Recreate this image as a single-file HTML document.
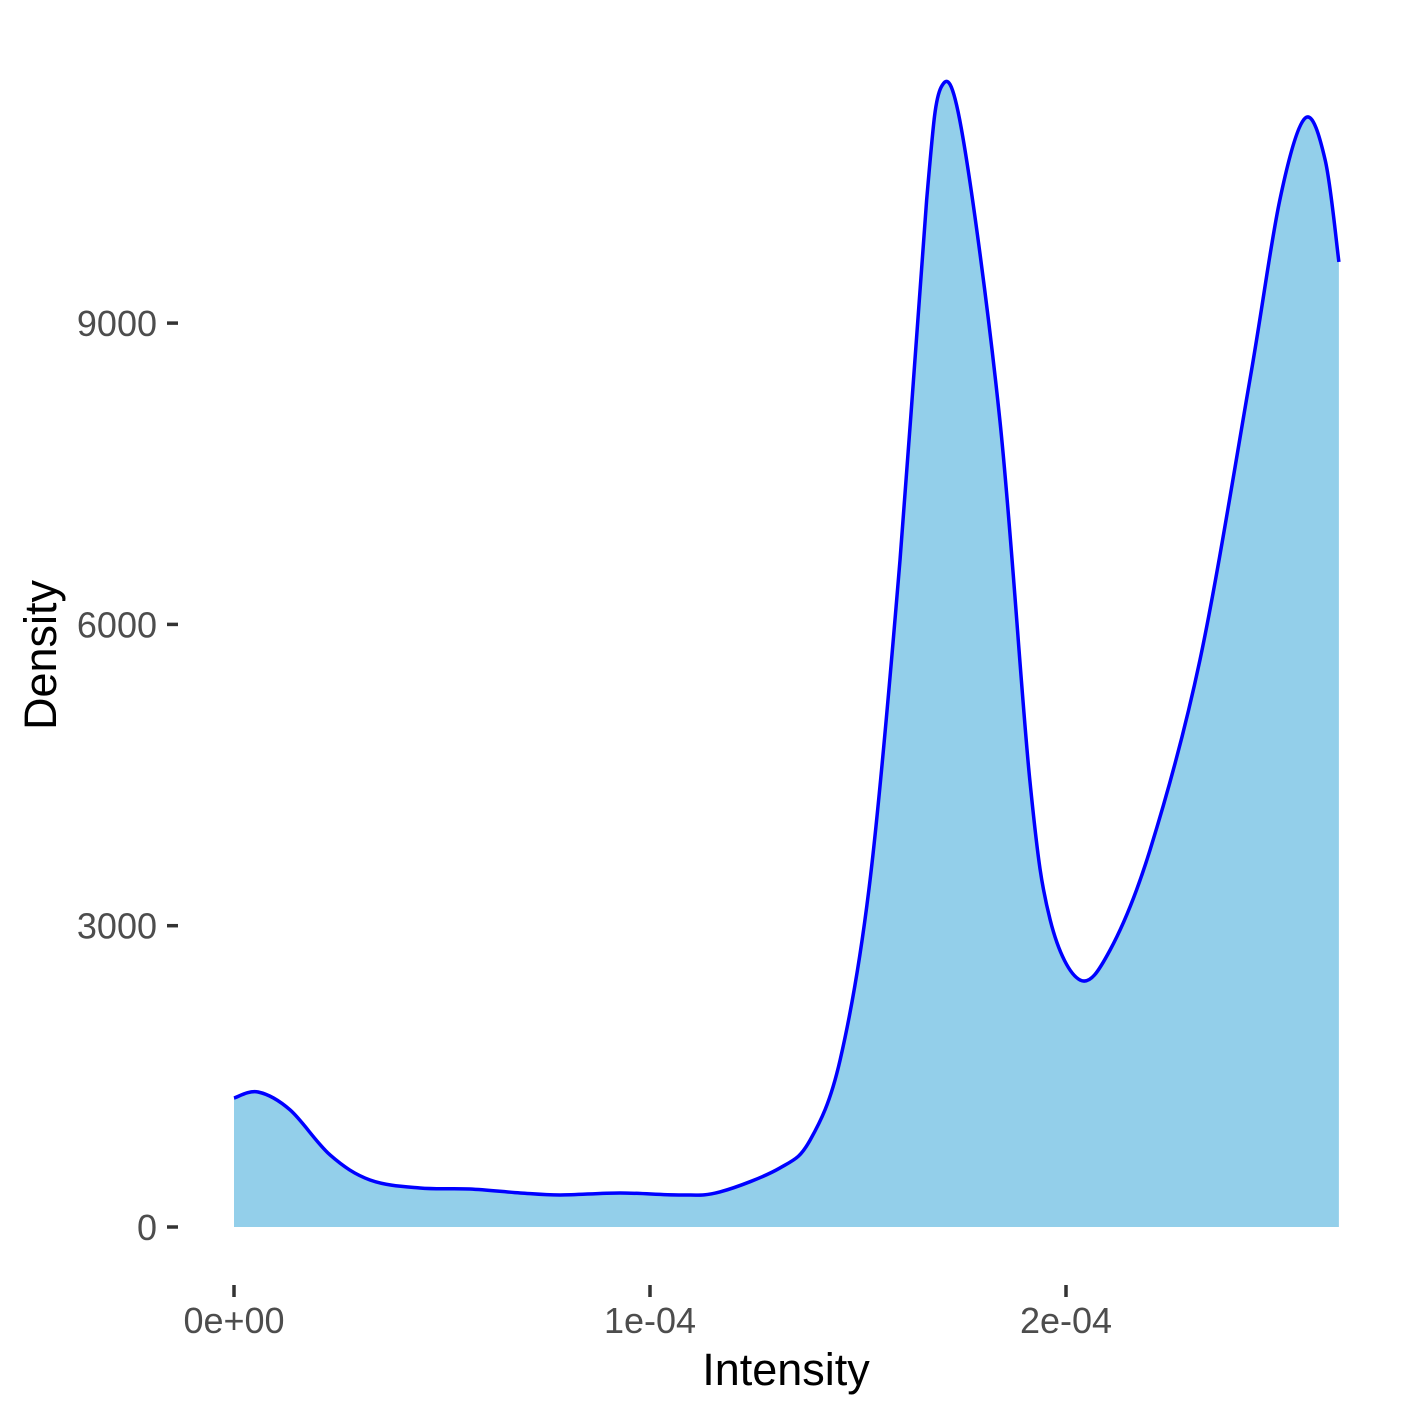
<!DOCTYPE html>
<html><head><meta charset="utf-8"><style>
html,body{margin:0;padding:0;background:#fff;}
svg{display:block;font-family:"Liberation Sans",Arial,sans-serif;}
</style></head><body>
<svg id="chart" width="1417" height="1417" viewBox="0 0 1417 1417" xmlns="http://www.w3.org/2000/svg">
<g id="plot"></g>
<text x="786" y="1385" font-size="45" text-anchor="middle" fill="#000">Intensity</text>
<text transform="translate(56,655) rotate(-90)" font-size="45" text-anchor="middle" fill="#000">Density</text>
</svg>
<script>
const xValues = [0,0.058,0.135,0.231,0.327,0.447,0.567,0.688,0.784,0.928,1.072,1.168,1.312,1.385,1.457,1.529,1.601,1.665,1.70,1.75,1.841,1.913,1.962,2.034,2.106,2.202,2.322,2.442,2.514,2.575,2.623,2.656];
const densityValues = [1284,1344,1165,717,468,388,378,339,319,339,319,349,587,866,1663,3455,6641,10226,11350,10900,8035,4451,3057,2459,2758,3754,5646,8434,10226,11042,10624,9609];
const yTicks = [0,3000,6000,9000];
const yTickLabels = ["0","3000","6000","9000"];
const xTicks = [0,1,2];
const xTickLabels = ["0e+00","1e-04","2e-04"];

const NS="http://www.w3.org/2000/svg";
const xs = v => 234 + v*416;
const ys = v => 1227 - v*(301.3/3000);
const plot=document.getElementById('plot');

function catmull(pts){
  let d=`M${pts[0][0]},${pts[0][1]}`;
  for(let i=0;i<pts.length-1;i++){
    const p0=pts[Math.max(0,i-1)],p1=pts[i],p2=pts[i+1],p3=pts[Math.min(pts.length-1,i+2)];
    const c1=[p1[0]+(p2[0]-p0[0])/6,p1[1]+(p2[1]-p0[1])/6];
    const c2=[p2[0]-(p3[0]-p1[0])/6,p2[1]-(p3[1]-p1[1])/6];
    d+=` C${c1[0]},${c1[1]} ${c2[0]},${c2[1]} ${p2[0]},${p2[1]}`;
  }
  return d;
}
const pts=xValues.map((x,i)=>[xs(x),ys(densityValues[i])]);
const line=catmull(pts);
const area=document.createElementNS(NS,'path');
area.setAttribute('d',`${line} L${pts[pts.length-1][0]},${ys(0)} L${pts[0][0]},${ys(0)} Z`);
area.setAttribute('fill','#93CFEA');


plot.appendChild(area);
const ln=document.createElementNS(NS,'path');
ln.setAttribute('d',line);
ln.setAttribute('fill','none');
ln.setAttribute('stroke','#0000FF');
ln.setAttribute('stroke-width','3.5');


plot.appendChild(ln);

yTicks.forEach((t,i)=>{
  const tk=document.createElementNS(NS,'line');
  tk.setAttribute('x1',167);tk.setAttribute('x2',178);
  tk.setAttribute('y1',ys(t));tk.setAttribute('y2',ys(t));
  tk.setAttribute('stroke','#333');tk.setAttribute('stroke-width','3.5');
  
  
  plot.appendChild(tk);
  const lb=document.createElementNS(NS,'text');
  lb.setAttribute('x',157);lb.setAttribute('y',ys(t)+13);
  lb.setAttribute('text-anchor','end');lb.setAttribute('font-size','36');lb.setAttribute('fill','#4d4d4d');
  lb.textContent=yTickLabels[i];
  
  
  plot.appendChild(lb);
});
xTicks.forEach((t,i)=>{
  const tk=document.createElementNS(NS,'line');
  tk.setAttribute('x1',xs(t));tk.setAttribute('x2',xs(t));
  tk.setAttribute('y1',1285);tk.setAttribute('y2',1297);
  tk.setAttribute('stroke','#333');tk.setAttribute('stroke-width','3.5');
  
  
  plot.appendChild(tk);
  const lb=document.createElementNS(NS,'text');
  lb.setAttribute('x',xs(t));lb.setAttribute('y',1333);
  lb.setAttribute('text-anchor','middle');lb.setAttribute('font-size','36');lb.setAttribute('fill','#4d4d4d');
  lb.textContent=xTickLabels[i];
  
  
  plot.appendChild(lb);
});
</script>
</body></html>
